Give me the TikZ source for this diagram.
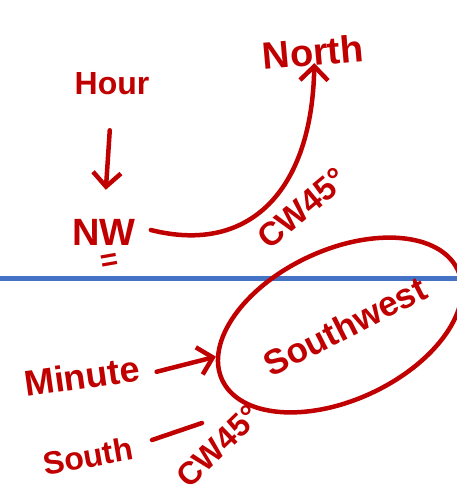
\documentclass[tikz,border=0pt]{standalone}
\usepackage{fontspec}
\setmainfont{Liberation Sans}
\usetikzlibrary{shapes.geometric,arrows.meta}
\definecolor{ink}{HTML}{C00000}
\definecolor{rule}{HTML}{4472C4}
\tikzset{
  hand/.style={text=ink, inner sep=1pt, font=\bfseries},
  stroke/.style={draw=ink, line width=4.5pt, line cap=round, line join=round},
  arr/.style={stroke, -{Straight Barb[length=14pt,width=28pt,line width=4.5pt]}},
  blueline/.style={draw=rule, line width=5pt}
}
\begin{document}
\begin{tikzpicture}[x=1pt,y=-1pt]
\useasboundingbox (0,0) rectangle (457,499);
\draw[blueline] (0,278) -- (457,278);
\node[hand, font=\bfseries\fontsize{32}{36}\selectfont] (hour) at (112,84) {Hour};
\node[hand, font=\bfseries\fontsize{38}{42}\selectfont] (nw) at (104,232) {NW};
\node[hand, font=\bfseries\fontsize{30}{34}\selectfont, rotate=10] (eq) at (110,262) {=};
\node[hand, font=\bfseries\fontsize{38}{42}\selectfont, rotate=5] (north) at (313,52) {North};
\node[hand, font=\bfseries\fontsize{33}{36}\selectfont, rotate=40] (cwtop) at (302,208) {CW45°};
\node[stroke, ellipse, rotate=25, minimum width=260pt, minimum height=150pt] (sw) at (340,325) {};
\node[hand, font=\bfseries\fontsize{35}{38}\selectfont, rotate=27] (swtext) at (345,326) {Southwest};
\node[hand, font=\bfseries\fontsize{36}{40}\selectfont, rotate=8] (minute) at (82,376) {Minute};
\node[hand, font=\bfseries\fontsize{32}{36}\selectfont, rotate=10] (south) at (88,456) {South};
\node[hand, font=\bfseries\fontsize{32}{36}\selectfont, rotate=44] (cwbot) at (218,446) {CW45°};
\coordinate (dashA) at (152,440);
\coordinate (dashB) at (202,423);
\draw[arr, shorten <=34pt, shorten >=28pt] (hour.south) -- (nw.north);
\draw[arr] ([xshift=14pt,yshift=2pt]nw.east) .. controls (250,255) and (312,190) .. ([yshift=4pt]north.south);
\draw[arr] ([xshift=16pt,yshift=-4pt]minute.east) -- (sw);
\draw[stroke] (dashA) -- (dashB);
\end{tikzpicture}
\end{document}
